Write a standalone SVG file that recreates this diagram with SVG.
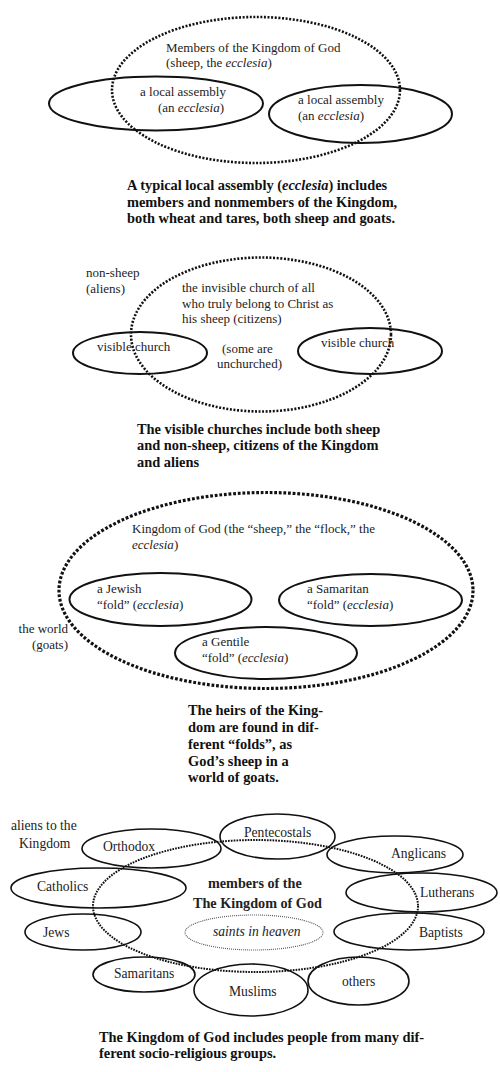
<svg xmlns="http://www.w3.org/2000/svg" width="500" height="1072" viewBox="0 0 500 1072">
<style>
.t{font-family:"Liberation Serif","Times New Roman",serif;font-size:13px;fill:#222}
.s{font-family:"Liberation Serif","Times New Roman",serif;font-size:13.6px;fill:#222}
.c{font-family:"Liberation Serif","Times New Roman",serif;font-size:14.4px;font-weight:bold;fill:#111}
.b{font-family:"Liberation Serif","Times New Roman",serif;font-size:14.2px;font-weight:bold;fill:#222}
.i{font-style:italic}
.solid{fill:none;stroke:#111;stroke-width:2}
.solid4{fill:none;stroke:#111;stroke-width:1.6}
.dot1{fill:none;stroke:#111;stroke-width:2.6;stroke-dasharray:2 1.6}
.dot3{fill:none;stroke:#111;stroke-width:3.2;stroke-dasharray:2.8 1.8}
.dot4{fill:none;stroke:#111;stroke-width:2;stroke-dasharray:1.7 1.1}
.dotS{fill:none;stroke:#555;stroke-width:1.1;stroke-dasharray:1 1}
</style>
<rect width="500" height="1072" fill="#fff"/>

<!-- Section 1 -->
<g id="kingdom1"><ellipse class="dot1" cx="256" cy="90" rx="144" ry="73"/>
<text class="t" x="166" y="52">Members of the Kingdom of God</text>
<text class="t" x="166" y="67">(sheep, the <tspan class="i">ecclesia</tspan>)</text></g>
<g id="local1"><ellipse class="solid" cx="156" cy="103.5" rx="107" ry="27"/>
<text class="t" x="140" y="96">a local assembly</text>
<text class="t" x="158" y="112">(an <tspan class="i">ecclesia</tspan>)</text></g>
<g id="local2"><ellipse class="solid" cx="360.5" cy="114" rx="91.5" ry="29"/>
<text class="t" x="298" y="104">a local assembly</text>
<text class="t" x="298" y="120">(an <tspan class="i">ecclesia</tspan>)</text></g>
<g id="caption1">
<text class="c" x="127" y="190">A typical local assembly (<tspan class="i">ecclesia</tspan>) includes</text>
<text class="c" x="127" y="206.5">members and nonmembers of the Kingdom,</text>
<text class="c" x="127" y="223">both wheat and tares, both sheep and goats.</text></g>

<!-- Section 2 -->
<g id="invisible"><ellipse class="dot1" cx="261" cy="334.5" rx="130" ry="77"/>
<text class="t" x="182" y="292">the invisible church of all</text>
<text class="t" x="182" y="307.5">who truly belong to Christ as</text>
<text class="t" x="182" y="323">his sheep (citizens)</text>
<text class="t" x="222" y="353">(some are</text>
<text class="t" x="217" y="368">unchurched)</text></g>
<g id="aliens2"><text class="t" x="86" y="277">non-sheep</text>
<text class="t" x="86" y="293">(aliens)</text></g>
<g id="visible1"><ellipse class="solid" cx="140" cy="353" rx="67" ry="21"/>
<text class="t" x="97" y="351">visible church</text></g>
<g id="visible2"><ellipse class="solid" cx="370" cy="351" rx="72" ry="23"/>
<text class="t" x="321" y="347">visible church</text></g>
<g id="caption2">
<text class="c" x="137" y="433.5">The visible churches include both sheep</text>
<text class="c" x="137" y="450">and non-sheep, citizens of the Kingdom</text>
<text class="c" x="137" y="466.5">and aliens</text></g>

<!-- Section 3 -->
<g id="kingdom3"><ellipse class="dot3" cx="266" cy="590.5" rx="207" ry="98"/>
<text class="t" x="132" y="533">Kingdom of God (the “sheep,” the “flock,” the</text>
<text class="t" x="132" y="549"><tspan class="i">ecclesia</tspan>)</text></g>
<g id="world"><text class="t" x="68" y="633" text-anchor="end">the world</text>
<text class="t" x="68" y="649" text-anchor="end">(goats)</text></g>
<g id="jewish"><ellipse class="solid" cx="160.5" cy="599.5" rx="91" ry="26.5"/>
<text class="t" x="97" y="593">a Jewish</text>
<text class="t" x="97" y="609">“fold” (<tspan class="i">ecclesia</tspan>)</text></g>
<g id="samaritan"><ellipse class="solid" cx="370.5" cy="600" rx="91.5" ry="26"/>
<text class="t" x="307" y="593">a Samaritan</text>
<text class="t" x="307" y="609">“fold” (<tspan class="i">ecclesia</tspan>)</text></g>
<g id="gentile"><ellipse class="solid" cx="266" cy="653" rx="91" ry="26"/>
<text class="t" x="202" y="646">a Gentile</text>
<text class="t" x="202" y="662">“fold” (<tspan class="i">ecclesia</tspan>)</text></g>
<g id="caption3">
<text class="c" x="188" y="715">The heirs of the King-</text>
<text class="c" x="188" y="732">dom are found in dif-</text>
<text class="c" x="188" y="749">ferent “folds”, as</text>
<text class="c" x="188" y="766">God’s sheep in a</text>
<text class="c" x="188" y="782">world of goats.</text></g>

<!-- Section 4 -->
<g id="kingdom4"><ellipse class="dot4" cx="255.5" cy="906" rx="162.5" ry="66"/>
<text class="b" x="208" y="888">members of the</text>
<text class="b" x="193" y="908">The Kingdom of God</text></g>
<g id="aliens4"><text class="s" x="11" y="830">aliens to the</text>
<text class="s" x="19" y="848">Kingdom</text></g>
<g id="saints"><ellipse class="dotS" cx="254" cy="932.5" rx="69" ry="17.5"/>
<text class="s i" x="213" y="936">saints in heaven</text></g>
<g id="orthodox"><ellipse class="solid4" cx="151.5" cy="848.5" rx="69.5" ry="19.5"/>
<text class="s" x="103" y="851">Orthodox</text></g>
<g id="pentecostals"><ellipse class="solid4" cx="277.5" cy="836.5" rx="57.5" ry="22.5"/>
<text class="s" x="244" y="837">Pentecostals</text></g>
<g id="anglicans"><ellipse class="solid4" cx="395" cy="854.5" rx="68" ry="18.5"/>
<text class="s" x="391" y="858">Anglicans</text></g>
<g id="catholics"><ellipse class="solid4" cx="98.5" cy="888" rx="87.5" ry="20"/>
<text class="s" x="37" y="891">Catholics</text></g>
<g id="lutherans"><ellipse class="solid4" cx="421.5" cy="892.5" rx="75.5" ry="19.5"/>
<text class="s" x="420" y="897">Lutherans</text></g>
<g id="jews"><ellipse class="solid4" cx="83" cy="932" rx="58" ry="18"/>
<text class="s" x="43" y="937">Jews</text></g>
<g id="baptists"><ellipse class="solid4" cx="409" cy="931.5" rx="75" ry="18.5"/>
<text class="s" x="419" y="937">Baptists</text></g>
<g id="samaritans"><ellipse class="solid4" cx="144" cy="974.5" rx="51" ry="17.5"/>
<text class="s" x="114" y="978">Samaritans</text></g>
<g id="muslims"><ellipse class="solid4" cx="251" cy="990" rx="57" ry="26"/>
<text class="s" x="229" y="996">Muslims</text></g>
<g id="others"><ellipse class="solid4" cx="358.5" cy="981" rx="50.5" ry="24"/>
<text class="s" x="342" y="986">others</text></g>
<g id="caption4">
<text class="c" x="99" y="1042">The Kingdom of God includes people from many dif-</text>
<text class="c" x="99" y="1058">ferent socio-religious groups.</text></g>
<g id="connectors"></g>
</svg>
